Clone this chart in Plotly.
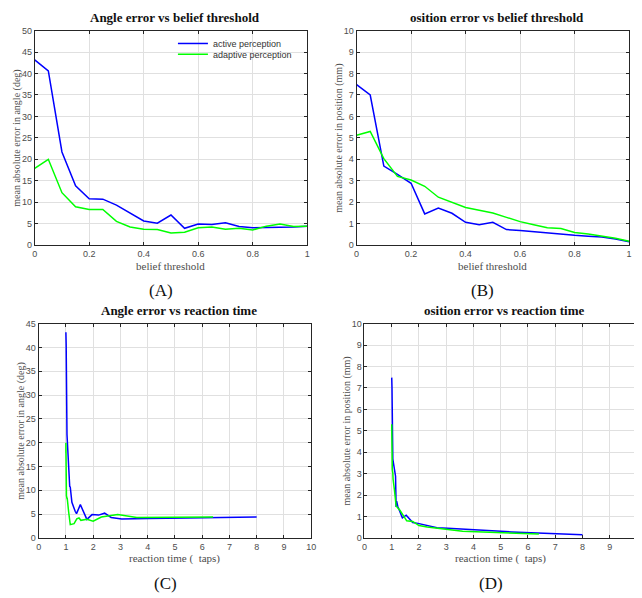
import plotly.graph_objects as go

# belief threshold sweep
threshold = [0.0, 0.05, 0.1, 0.15, 0.2, 0.25, 0.3, 0.35, 0.4, 0.45, 0.5,
             0.55, 0.6, 0.65, 0.7, 0.75, 0.8, 0.85, 0.9, 0.95, 1.0]

angle_active = [43.2, 40.6, 21.7, 13.8, 10.8, 10.7, 9.3, 7.5, 5.6, 5.1, 7.0,
                3.9, 4.9, 4.8, 5.2, 4.3, 4.0, 4.1, 4.1, 4.2, 4.4]
angle_adaptive = [17.9, 20.0, 12.2, 8.9, 8.3, 8.3, 5.5, 4.2, 3.7, 3.6, 2.8,
                  3.0, 4.0, 4.2, 3.7, 3.9, 3.5, 4.4, 4.9, 4.3, 4.4]

pos_active = [7.48, 7.0, 3.68, 3.3, 2.88, 1.45, 1.72, 1.48, 1.06, 0.94, 1.06,
              0.72, 0.68, 0.62, 0.55, 0.48, 0.45, 0.41, 0.37, 0.28, 0.15]
pos_adaptive = [5.12, 5.3, 4.03, 3.2, 3.03, 2.74, 2.23, 2.0, 1.75, 1.62, 1.49,
                1.29, 1.09, 0.94, 0.8, 0.77, 0.58, 0.51, 0.42, 0.31, 0.18]

# mean reaction time (taps) for each threshold
rt_active = [1.0, 1.01, 1.04, 1.1, 1.14, 1.16, 1.18, 1.22, 1.34, 1.39, 1.53,
             1.77, 1.96, 2.2, 2.42, 2.66, 3.05, 3.6, 4.0, 5.4, 8.0]
rt_adaptive = [1.0, 1.0, 1.01, 1.02, 1.04, 1.05, 1.1, 1.12, 1.13, 1.14, 1.16,
               1.3, 1.4, 1.48, 1.55, 1.77, 2.0, 2.3, 2.9, 3.6, 6.4]

BLUE = '#0000ff'
GREEN = '#00ff00'
SERIF = 'Liberation Serif, Times New Roman, serif'
SANS = 'Liberation Sans, Arial, sans-serif'

# page body adds an 8px margin, so the figure is drawn 8px smaller
OFF = 8
W, H = 642 - OFF, 598 - OFF


def px(x):
    return (x - OFF) / W


def py(y):
    return 1 - (y - OFF) / H


# plot boxes in window pixels: (left, right, top, bottom)
boxes = {
    '': (32, 308, 26, 244),
    '2': (358, 634, 26, 244),
    '3': (36, 312, 324, 542),
    '4': (366, 642, 324, 542),
}

fig = go.Figure()

panels = [
    ('', threshold, threshold, angle_active, angle_adaptive, True),
    ('2', threshold, threshold, pos_active, pos_adaptive, False),
    ('3', rt_active, rt_adaptive, angle_active, angle_adaptive, False),
    ('4', rt_active, rt_adaptive, pos_active, pos_adaptive, False),
]
for ax, xa, xb, ya, yb, legend in panels:
    fig.add_trace(go.Scatter(x=xa, y=ya, mode='lines', name='active perception',
                             line=dict(color=BLUE, width=1.5), showlegend=legend,
                             legend='legend', xaxis='x' + ax, yaxis='y' + ax))
    fig.add_trace(go.Scatter(x=xb, y=yb, mode='lines', name='adaptive perception',
                             line=dict(color=GREEN, width=1.5), showlegend=legend,
                             legend='legend2', xaxis='x' + ax, yaxis='y' + ax))

common = dict(showline=True, linecolor='#262626', linewidth=1, mirror='ticks',
              ticks='inside', ticklen=3, tickcolor='#262626',
              showgrid=True, gridcolor='#e0e0e0', gridwidth=1, zeroline=False,
              tickfont=dict(family=SANS, size=9, color='#4d4d4d'))

axis_cfg = {
    '': dict(xr=[0, 1], xd=0.2, yr=[0, 50], yd=5, xt='belief threshold',
             yt='mean absolute error in angle (deg)',
             title='Angle error vs belief threshold', lab='(A)'),
    '2': dict(xr=[0, 1], xd=0.2, yr=[0, 10], yd=1, xt='belief threshold',
              yt='mean absolute error in position (mm)',
              title='osition error vs belief threshold', lab='(B)'),
    '3': dict(xr=[0, 10], xd=1, yr=[0, 45], yd=5, xt='reaction time (  taps)',
              yt='mean absolute error in angle (deg)',
              title='Angle error vs reaction time', lab='(C)'),
    '4': dict(xr=[0, 10], xd=1, yr=[0, 10], yd=1, xt='reaction time (  taps)',
              yt='mean absolute error in position (mm)',
              title='osition error vs reaction time', lab='(D)'),
}

layout = {}
annotations = []
for ax, (l, r, t, b) in boxes.items():
    c = axis_cfg[ax]
    layout['xaxis' + ax] = dict(domain=[px(l), min(px(r), 1.0)], range=c['xr'],
                                dtick=c['xd'], anchor='y' + ax, **common)
    layout['yaxis' + ax] = dict(domain=[py(b), py(t)], range=c['yr'],
                                dtick=c['yd'], anchor='x' + ax, **common)
    cx = (l + r) / 2
    texts = [
        ('<b>%s</b>' % c['title'], cx + 4, t - 13, 0, SERIF, 13, '#111111'),
        (c['xt'], cx, b + 21, 0, SERIF, 11, '#4d4d4d'),
        (c['yt'], l - 18, (t + b) / 2, -90, SERIF, 10, '#4d4d4d'),
        (c['lab'], cx - 10, b + 46, 0, SERIF, 17, '#111111'),
    ]
    for text, x, y, ang, fam, size, col in texts:
        annotations.append(dict(text=text, x=px(x), y=py(y), xref='paper', yref='paper',
                                xanchor='center', yanchor='middle', showarrow=False,
                                textangle=ang, font=dict(family=fam, size=size, color=col)))

legend_style = dict(xanchor='left', yanchor='middle', bgcolor='rgba(0,0,0,0)',
                    itemwidth=30, borderwidth=0,
                    font=dict(family=SANS, size=9, color='#333333'))

fig.update_layout(
    width=W, height=H,
    margin=dict(l=0, r=0, t=0, b=0),
    paper_bgcolor='white', plot_bgcolor='white',
    annotations=annotations,
    legend=dict(x=px(172), y=py(39), **legend_style),
    legend2=dict(x=px(172), y=py(50), **legend_style),
    **layout,
)

fig.write_html("out.html")
